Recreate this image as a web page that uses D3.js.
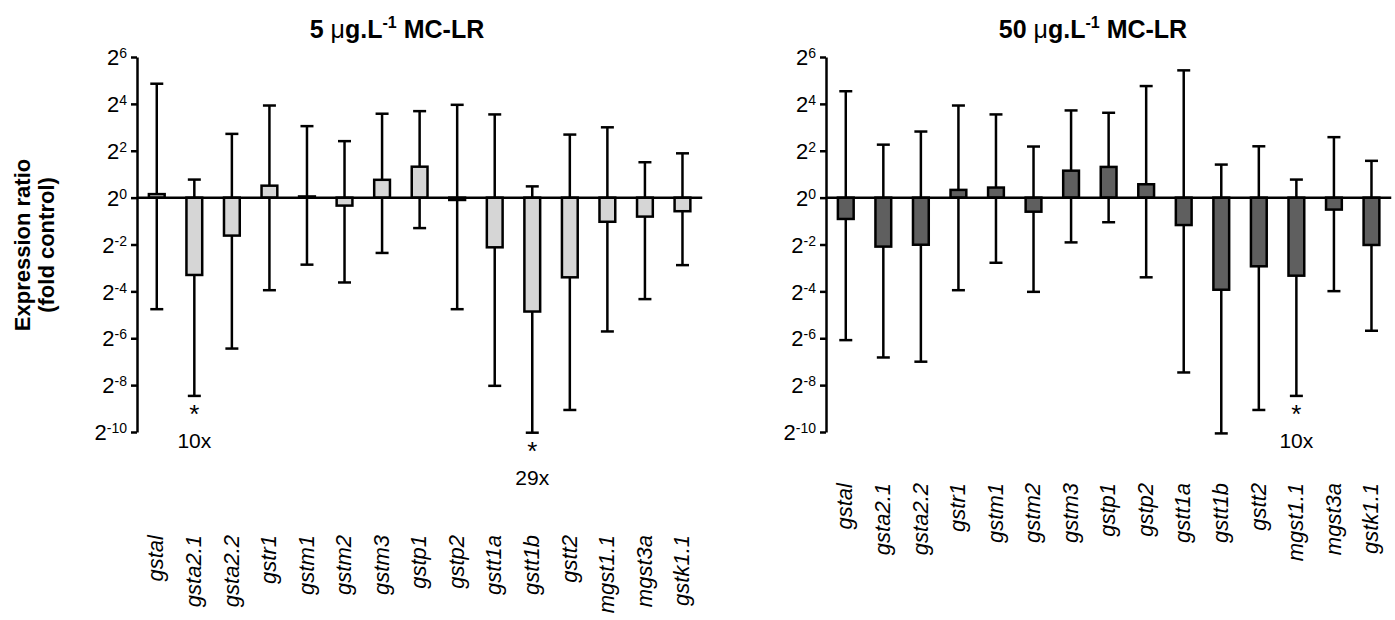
<!DOCTYPE html>
<html><head><meta charset="utf-8">
<script src="https://cdn.jsdelivr.net/npm/d3@7/dist/d3.min.js"></script>
<style>body{margin:0;background:#fff}svg{display:block}</style>
</head><body>
<svg id="chart" width="1395" height="620"></svg>
<script>
// Data: values are log2 expression ratios (exponent of 2)
const categories = ["gstal","gsta2.1","gsta2.2","gstr1","gstm1","gstm2","gstm3","gstp1","gstp2","gstt1a","gstt1b","gstt2","mgst1.1","mgst3a","gstk1.1"];
const mean5  = [0.15,-3.3,-1.62,0.51,0.05,-0.34,0.76,1.32,-0.1,-2.12,-4.86,-3.4,-1.03,-0.81,-0.58];
const upper5 = [4.86,0.77,2.72,3.93,3.05,2.41,3.58,3.69,3.96,3.55,0.48,2.69,3.0,1.51,1.89];
const lower5 = [-4.76,-8.46,-6.44,-3.95,-2.86,-3.62,-2.36,-1.3,-4.76,-8.03,-10.03,-9.06,-5.71,-4.33,-2.88];
const mean50  = [-0.91,-2.09,-2.01,0.33,0.43,-0.6,1.15,1.31,0.57,-1.17,-3.93,-2.93,-3.33,-0.51,-2.02];
const upper50 = [4.54,2.26,2.82,3.93,3.55,2.18,3.72,3.62,4.76,5.43,1.41,2.19,0.77,2.58,1.57];
const lower50 = [-6.08,-6.82,-7.0,-3.95,-2.78,-4.02,-1.91,-1.05,-3.4,-7.46,-10.06,-9.06,-8.46,-3.99,-5.68];
const yTicks = [6,4,2,0,-2,-4,-6,-8,-10];
const sig5 = [{gene:"gsta2.1", label:"10x"},{gene:"gstt1b", label:"29x"}];
const sig50 = [{gene:"mgst1.1", label:"10x"}];
const titles = ["5 ", "50 "];

const svg = d3.select("#chart");
const FONT = "'Liberation Sans', Arial, sans-serif";
const y = d3.scaleLinear().domain([-10, 6]).range([432, 57]);

function drawPanel(cfg) {
  const g = svg.append("g");
  const x = d3.scaleBand().domain(categories)
    .range([cfg.axisX + 1, cfg.axisX + 1 + 15 * 37.55])
    .paddingInner(0.58).paddingOuter(0.29);
  const bw = x.bandwidth();
  const cx = d => x(d) + bw / 2;

  // title
  const t = g.append("text").attr("x", cfg.titleX).attr("y", 38)
    .attr("text-anchor", "middle").attr("font-family", FONT)
    .attr("font-size", 25).attr("font-weight", "bold");
  t.append("tspan").text(cfg.title);
  t.append("tspan").attr("font-weight", "normal").text("\u03bc");
  t.append("tspan").text("g.L");
  t.append("tspan").attr("font-size", 16).attr("dy", -10).text("-1");
  t.append("tspan").attr("dy", 10).text(" MC-LR");

  // axis
  const ax = g.append("g").attr("transform", `translate(${cfg.axisX},0)`)
    .call(d3.axisLeft(y).tickValues(yTicks).tickSize(6).tickSizeOuter(0).tickFormat(""));
  ax.select(".domain").attr("stroke", "#000").attr("stroke-width", 2.5);
  ax.selectAll(".tick line").attr("stroke", "#000").attr("stroke-width", 2.5);
  ax.selectAll(".tick").each(function(d) {
    const tx = d3.select(this).append("text").attr("x", -10).attr("dy", "0.35em")
      .attr("text-anchor", "end").attr("fill", "#000")
      .attr("font-family", FONT).attr("font-size", 22);
    tx.append("tspan").text("2");
    tx.append("tspan").attr("font-size", 14).attr("dy", -7).text(d);
  });

  // error bars
  const eb = g.append("g").attr("stroke", "#000").attr("stroke-width", 2.5);
  categories.forEach((c, i) => {
    eb.append("line").attr("x1", cx(c)).attr("x2", cx(c))
      .attr("y1", y(cfg.upper[i])).attr("y2", y(cfg.lower[i]));
    [cfg.upper[i], cfg.lower[i]].forEach(v => {
      eb.append("line").attr("x1", cx(c) - 6.5).attr("x2", cx(c) + 6.5)
        .attr("y1", y(v)).attr("y2", y(v));
    });
  });

  // bars
  g.append("g").selectAll("rect").data(categories).join("rect")
    .attr("x", d => x(d)).attr("width", bw)
    .attr("y", (d, i) => y(Math.max(0, cfg.mean[i])))
    .attr("height", (d, i) => Math.abs(y(cfg.mean[i]) - y(0)))
    .attr("fill", cfg.fill).attr("stroke", "#000").attr("stroke-width", 2.5);

  // zero line
  g.append("line").attr("x1", cfg.axisX).attr("x2", x.range()[1] + 1)
    .attr("y1", y(0)).attr("y2", y(0)).attr("stroke", "#000").attr("stroke-width", 2.5);

  // significance annotations (star + fold label)
  cfg.sig.forEach(s => {
    const i = categories.indexOf(s.gene);
    const ly = y(cfg.lower[i]);
    g.append("text").attr("x", cx(s.gene)).attr("y", ly + 27)
      .attr("text-anchor", "middle").attr("font-family", FONT).attr("font-size", 26).text("*");
    g.append("text").attr("x", cx(s.gene)).attr("y", ly + 52)
      .attr("text-anchor", "middle").attr("font-family", FONT).attr("font-size", 21).text(s.label);
  });

  // category labels
  categories.forEach(c => {
    g.append("text")
      .attr("transform", `translate(${cx(c) - 1},${cfg.labelY}) rotate(-90)`)
      .attr("text-anchor", "end").attr("dy", "0.35em")
      .attr("font-family", FONT).attr("font-size", 22).attr("font-style", "italic")
      .text(c);
  });
}

drawPanel({axisX: 137, titleX: 397, title: titles[0], mean: mean5, upper: upper5, lower: lower5,
  fill: "#d6d6d6", sig: sig5, labelY: 535});
drawPanel({axisX: 826, titleX: 1093, title: titles[1], mean: mean50, upper: upper50, lower: lower50,
  fill: "#5f5f5f", sig: sig50, labelY: 483});

// y-axis title
const yl = svg.append("text").attr("transform", "translate(22,245) rotate(-90)")
  .attr("text-anchor", "middle").attr("font-family", FONT).attr("font-size", 22).attr("font-weight", "bold");
yl.append("tspan").attr("x", 0).attr("dy", "0.35em").text("Expression ratio");
yl.append("tspan").attr("x", 0).attr("dy", 24).text("(fold control)");
</script>
</body></html>
